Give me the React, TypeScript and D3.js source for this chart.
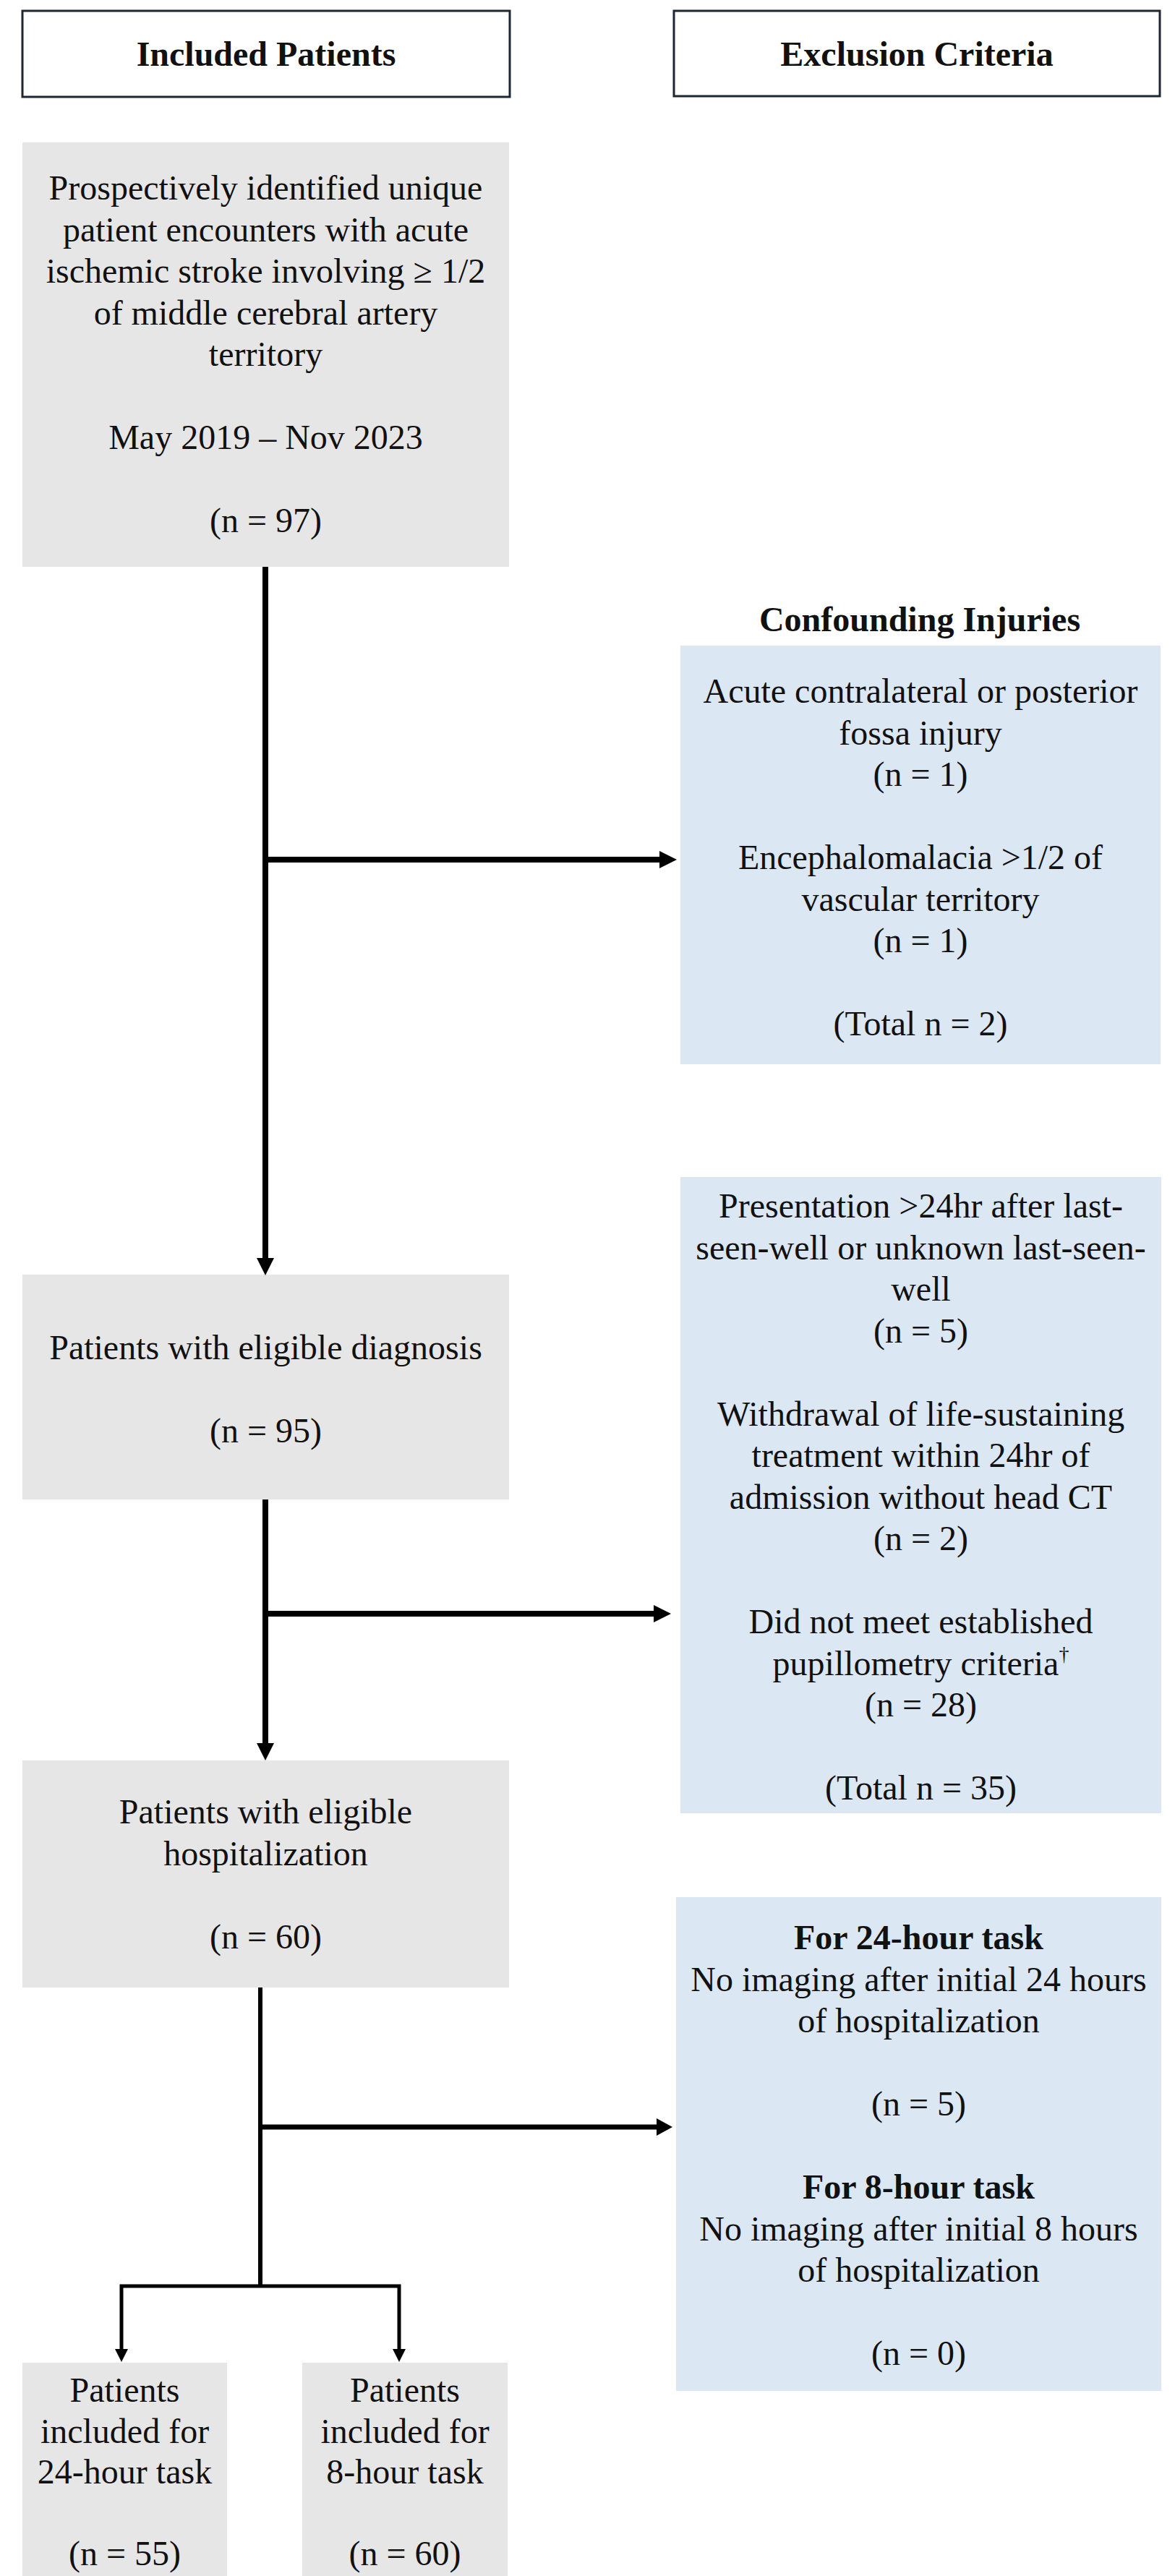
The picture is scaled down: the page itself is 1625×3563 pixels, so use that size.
import React from "react";
import * as d3 from "d3";

// ---------- data ----------
const headerLabels = ["Included Patients", "Exclusion Criteria"];

const stage1Lines = [
  "Prospectively identified unique",
  "patient encounters with acute",
  "ischemic stroke involving \u2265 1/2",
  "of middle cerebral artery",
  "territory",
  "",
  "May 2019 \u2013 Nov 2023",
];
const stage2Lines = ["Patients with eligible diagnosis"];
const stage3Lines = ["Patients with eligible", "hospitalization"];
const includedCounts = [97, 95, 60];

const finalLines = [
  ["Patients", "included for", "24-hour task"],
  ["Patients", "included for", "8-hour task"],
];
const finalCounts = [55, 60];

const exclusion1Title = "Confounding Injuries";
const exclusion1Reasons = [
  ["Acute contralateral or posterior", "fossa injury"],
  ["Encephalomalacia >1/2 of", "vascular territory"],
];
const exclusion1Counts = [1, 1];
const exclusion1Total = 2;

const exclusion2Reasons = [
  ["Presentation >24hr after last-", "seen-well or unknown last-seen-", "well"],
  ["Withdrawal of life-sustaining", "treatment within 24hr of", "admission without head CT"],
  ["Did not meet established", "pupillometry criteria\u2020"],
];
const exclusion2Counts = [5, 2, 28];
const exclusion2Total = 35;

const exclusion3Titles = ["For 24-hour task", "For 8-hour task"];
const exclusion3Reasons = [
  ["No imaging after initial 24 hours", "of hospitalization"],
  ["No imaging after initial 8 hours", "of hospitalization"],
];
const exclusion3Counts = [5, 0];

// ---------- styles / layout ----------
const W = 1625;
const H = 3563;
const FONT = "'Liberation Serif', 'Times New Roman', Times, serif";
const FS = 48;
const LH = 57.5;
const GRAY = "#e7e6e6";
const BLUE = "#dce7f4";
const INK = "#111111";

type Line = { t: string; b?: boolean };

const nStr = (n: number) => `(n = ${n})`;
const totStr = (n: number) => `(Total n = ${n})`;

function buildIncluded(lines: string[], count: number): Line[] {
  return [...lines.map((t) => ({ t })), { t: "" }, { t: nStr(count) }];
}

function buildExclusion(reasons: string[][], counts: number[], total: number): Line[] {
  const out: Line[] = [];
  reasons.forEach((r, i) => {
    r.forEach((t) => out.push({ t }));
    out.push({ t: nStr(counts[i]) });
    out.push({ t: "" });
  });
  out.push({ t: totStr(total) });
  return out;
}

function buildExclusion3(): Line[] {
  const out: Line[] = [];
  exclusion3Titles.forEach((title, i) => {
    out.push({ t: title, b: true });
    exclusion3Reasons[i].forEach((t) => out.push({ t }));
    out.push({ t: "" });
    out.push({ t: nStr(exclusion3Counts[i]) });
    if (i < exclusion3Titles.length - 1) out.push({ t: "" });
  });
  return out;
}

function buildFinal(i: number): Line[] {
  return [...finalLines[i].map((t) => ({ t })), { t: "" }, { t: nStr(finalCounts[i]) }];
}

const boxes = [
  { x0: 31, x1: 704, y0: 197, y1: 784, fill: GRAY, base: 276, lh: LH, lines: buildIncluded(stage1Lines, includedCounts[0]) },
  { x0: 31, x1: 704, y0: 1763, y1: 2074, fill: GRAY, base: 1880, lh: LH, lines: buildIncluded(stage2Lines, includedCounts[1]) },
  { x0: 31, x1: 704, y0: 2435, y1: 2749, fill: GRAY, base: 2522, lh: LH, lines: buildIncluded(stage3Lines, includedCounts[2]) },
  { x0: 31, x1: 314, y0: 3268, y1: 3563, fill: GRAY, base: 3322, lh: 56.5, lines: buildFinal(0) },
  { x0: 418, x1: 702, y0: 3268, y1: 3563, fill: GRAY, base: 3322, lh: 56.5, lines: buildFinal(1) },
  { x0: 941, x1: 1605, y0: 893, y1: 1472, fill: BLUE, base: 972, lh: LH, lines: buildExclusion(exclusion1Reasons, exclusion1Counts, exclusion1Total) },
  { x0: 941, x1: 1606, y0: 1628, y1: 2508, fill: BLUE, base: 1684, lh: LH, lines: buildExclusion(exclusion2Reasons, exclusion2Counts, exclusion2Total) },
  { x0: 935, x1: 1606, y0: 2624, y1: 3307, fill: BLUE, base: 2696, lh: LH, lines: buildExclusion3() },
];

const headerBoxes = [
  { x0: 31, x1: 705, y0: 15, y1: 134 },
  { x0: 932, x1: 1604, y0: 15, y1: 133 },
];

// connectors: [points], stroke width, arrow
type Conn = { pts: [number, number][]; w: number; arrow?: "down" | "right"; ah?: number };
const connectors: Conn[] = [
  { pts: [[367, 784], [367, 1740]], w: 8, arrow: "down", ah: 24 },
  { pts: [[367, 1189], [912, 1189]], w: 8, arrow: "right", ah: 24 },
  { pts: [[367, 2074], [367, 2411]], w: 8, arrow: "down", ah: 24 },
  { pts: [[367, 2232], [904, 2232]], w: 8, arrow: "right", ah: 24 },
  { pts: [[360, 2749], [360, 3162]], w: 6 },
  { pts: [[360, 2942], [908, 2942]], w: 7, arrow: "right", ah: 22 },
  { pts: [[168, 3250], [168, 3162], [552, 3162], [552, 3250]], w: 5 },
];
const smallArrows: [number, number][] = [[168, 3267], [552, 3267]];

const lineGen = d3.line<[number, number]>().x((d) => d[0]).y((d) => d[1]);

function arrowPath(x: number, y: number, dir: "down" | "right", len: number, half: number) {
  const p = d3.path();
  if (dir === "down") {
    p.moveTo(x - half, y - len);
    p.lineTo(x + half, y - len);
    p.lineTo(x, y);
  } else {
    p.moveTo(x - len, y - half);
    p.lineTo(x - len, y + half);
    p.lineTo(x, y);
  }
  p.closePath();
  return p.toString();
}

function TextLines({ cx, base, lh, lines }: { cx: number; base: number; lh: number; lines: Line[] }) {
  return (
    <>
      {lines.map((l, i) => {
        if (!l.t) return null;
        const y = base + i * lh;
        const dag = l.t.endsWith("\u2020");
        return (
          <text
            key={i}
            x={cx}
            y={y}
            textAnchor="middle"
            fontFamily={FONT}
            fontSize={FS}
            fontWeight={l.b ? "bold" : "normal"}
            fill={INK}
          >
            {dag ? (
              <>
                {l.t.slice(0, -1)}
                <tspan fontSize={28} dy={-20}>{"\u2020"}</tspan>
              </>
            ) : (
              l.t
            )}
          </text>
        );
      })}
    </>
  );
}

export default function App() {
  return (
    <svg
      width={W}
      height={H}
      viewBox={`0 0 ${W} ${H}`}
      style={{ position: "absolute", left: 0, top: 0, background: "#ffffff" }}
    >
      <rect x={0} y={0} width={W} height={H} fill="#ffffff" />
      {headerBoxes.map((b, i) => (
        <g key={i}>
          <rect x={b.x0} y={b.y0} width={b.x1 - b.x0} height={b.y1 - b.y0} fill="#ffffff" stroke="#1c2733" strokeWidth={3} />
          <text
            x={(b.x0 + b.x1) / 2}
            y={91}
            textAnchor="middle"
            fontFamily={FONT}
            fontSize={FS}
            fontWeight="bold"
            fill={INK}
          >
            {headerLabels[i]}
          </text>
        </g>
      ))}
      <text x={1272} y={873} textAnchor="middle" fontFamily={FONT} fontSize={FS} fontWeight="bold" fill={INK}>
        {exclusion1Title}
      </text>
      {boxes.map((b, i) => (
        <g key={i}>
          <rect x={b.x0} y={b.y0} width={b.x1 - b.x0} height={b.y1 - b.y0} fill={b.fill} />
          <TextLines cx={(b.x0 + b.x1) / 2} base={b.base} lh={b.lh} lines={b.lines} />
        </g>
      ))}
      {connectors.map((c, i) => {
        const last = c.pts[c.pts.length - 1];
        return (
          <g key={i}>
            <path d={lineGen(c.pts) || ""} fill="none" stroke="#000" strokeWidth={c.w} strokeLinejoin="miter" />
            {c.arrow && (
              <path
                d={arrowPath(
                  c.arrow === "down" ? last[0] : last[0] + (c.ah || 24),
                  c.arrow === "down" ? last[1] + (c.ah || 24) : last[1],
                  c.arrow,
                  c.ah || 24,
                  12
                )}
                fill="#000"
              />
            )}
          </g>
        );
      })}
      {smallArrows.map((a, i) => (
        <path key={i} d={arrowPath(a[0], a[1], "down", 18, 9)} fill="#000" />
      ))}
    </svg>
  );
}
